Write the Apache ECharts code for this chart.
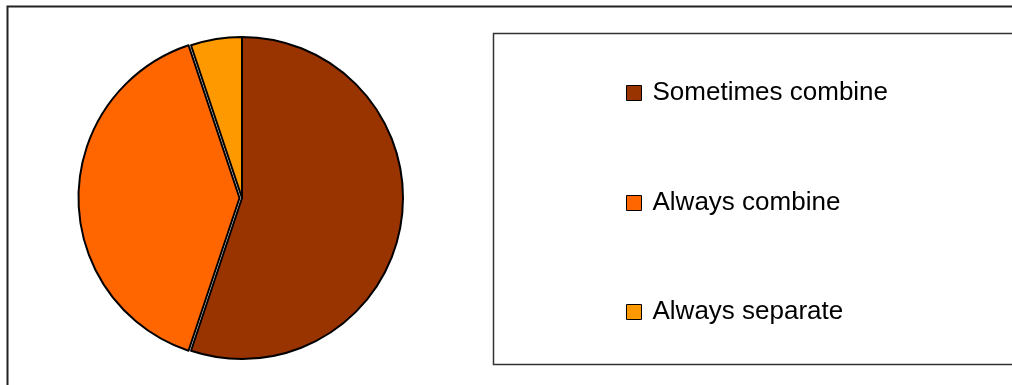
<!DOCTYPE html>
<html>
<head>
<meta charset="utf-8">
<script src="https://cdn.jsdelivr.net/npm/echarts@6/dist/echarts.min.js"></script>
<style>html,body{margin:0;padding:0;background:#fff}#c{width:1012px;height:385px}</style>
</head>
<body>
<div id="c"></div>
<script>
const categories = ['Sometimes combine', 'Always combine', 'Always separate'];
const values = [43, 31, 4];
const colors = ['#993300', '#FF6600', '#FF9900'];
const legendRowTops = [75, 185, 294];

const chart = echarts.init(document.getElementById('c'), null, {renderer: 'canvas'});
const data = categories.map((n, i) => ({
  name: n, value: values[i], selected: i === 1,
  itemStyle: {color: colors[i]}
}));
chart.setOption({
  animation: false,
  graphic: [
    {type: 'rect', shape: {x: 7.5, y: 6.5, width: 1020, height: 400}, style: {fill: null, stroke: '#222', lineWidth: 2}, z: 0},
    {type: 'rect', shape: {x: 493.5, y: 33.5, width: 540, height: 331}, style: {fill: null, stroke: '#333', lineWidth: 1.5}, z: 0}
  ],
  legend: categories.map((n, i) => ({
    data: [n], left: 621, top: legendRowTops[i], orient: 'vertical',
    itemWidth: 15, itemHeight: 15, itemGap: 10, selectedMode: false,
    icon: 'rect',
    itemStyle: {borderColor: '#000', borderWidth: 1},
    textStyle: {fontFamily: 'Liberation Sans, Arial, sans-serif', fontSize: 26, color: '#000', padding: [0, 0, 0, 6]}
  })),
  series: [{
    type: 'pie',
    center: [242, 198],
    radius: 161,
    startAngle: 90,
    clockwise: true,
    selectedMode: 'single',
    selectedOffset: 2.5,
    label: {show: false},
    labelLine: {show: false},
    emphasis: {disabled: true},
    itemStyle: {borderColor: '#000', borderWidth: 2},
    data: data
  }]
});
</script>
</body>
</html>
